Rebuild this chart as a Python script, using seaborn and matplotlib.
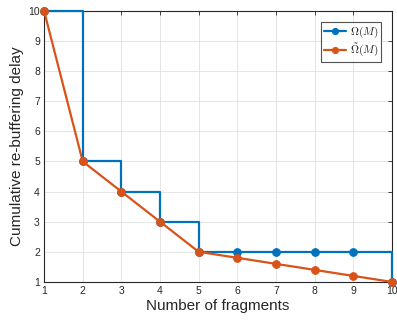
import matplotlib
matplotlib.use("Agg")
import matplotlib.pyplot as plt
import seaborn as sns
import pandas as pd

fragments = [1, 2, 3, 4, 5, 6, 7, 8, 9, 10]
omega = [10, 5, 4, 3, 2, 2, 2, 2, 2, 1]
omega_hat = [10, 5, 4, 3, 2, 1.8, 1.6, 1.4, 1.2, 1]
xticks = [1, 2, 3, 4, 5, 6, 7, 8, 9, 10]
yticks = [1, 2, 3, 4, 5, 6, 7, 8, 9, 10]

sns.set_theme(style="whitegrid")
plt.rcParams['font.family'] = ['Liberation Sans', 'DejaVu Sans']
plt.rcParams['mathtext.fontset'] = 'cm'

fig = plt.figure(figsize=(3.97, 3.2), dpi=100)
ax = fig.add_axes([0.111, 0.119, 0.876, 0.847])

df = pd.DataFrame({"M": fragments, "omega": omega, "omega_hat": omega_hat})
blue = "#0072BD"
orange = "#D95319"
sns.lineplot(data=df, x="M", y="omega", ax=ax, color=blue, lw=1.6,
             drawstyle="steps-post", marker="o", markersize=5.5,
             markeredgecolor=blue, label=r"$\Omega(M)$", clip_on=False, zorder=3)
sns.lineplot(data=df, x="M", y="omega_hat", ax=ax, color=orange, lw=1.6,
             marker="o", markersize=5.5, markeredgecolor=orange,
             label=r"$\tilde{\Omega}(M)$", clip_on=False, zorder=4)

ax.set_xlim(1, 10)
ax.set_ylim(1, 10)
ax.set_xticks(xticks)
ax.set_yticks(yticks)
ax.set_xlabel("Number of fragments", fontsize=11, color="#262626", labelpad=2)
ax.set_ylabel("Cumulative re-buffering delay", fontsize=11, color="#262626", labelpad=3)
ax.tick_params(axis="both", labelsize=7.5, colors="#262626", direction="in",
               length=3, width=0.6, top=True, right=True, pad=3)
for s in ax.spines.values():
    s.set_color("#262626")
    s.set_linewidth(0.8)
ax.grid(True, color="#e0e0e0", lw=0.6)
ax.set_axisbelow(True)

leg = ax.legend(loc="upper right", fontsize=8, frameon=True, fancybox=False,
                edgecolor="#262626", handlelength=2.0, borderpad=0.25,
                labelspacing=0.15, handletextpad=0.3, borderaxespad=1.0,
                markerscale=0.8)
leg.get_frame().set_linewidth(0.8)

fig.savefig("out.png", dpi=100)
